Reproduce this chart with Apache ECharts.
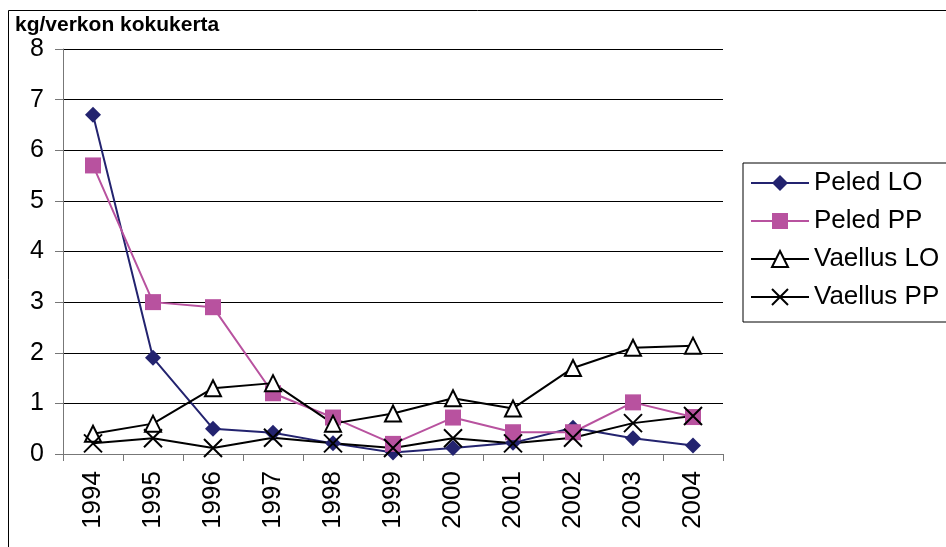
<!DOCTYPE html>
<html>
<head>
<meta charset="utf-8">
<script src="https://cdn.jsdelivr.net/npm/echarts@6/dist/echarts.min.js"></script>
<style>
  html, body { margin: 0; padding: 0; background: #fff; }
  #chart { width: 946px; height: 547px; }
</style>
</head>
<body>
<div id="chart"></div>
<script>
// vuodet ja saaliit (kg/verkon kokukerta)
var years = ['1994', '1995', '1996', '1997', '1998', '1999', '2000', '2001', '2002', '2003', '2004']
var peledLO = [6.7, 1.9, 0.5, 0.42, 0.21, 0.03, 0.12, 0.22, 0.52, 0.31, 0.17]
var peledPP = [5.7, 3.0, 2.9, 1.2, 0.72, 0.2, 0.72, 0.43, 0.43, 1.02, 0.73]
var vaellusLO = [0.4, 0.6, 1.3, 1.4, 0.6, 0.8, 1.1, 0.9, 1.7, 2.1, 2.14]
var vaellusPP = [0.21, 0.31, 0.12, 0.32, 0.21, 0.12, 0.31, 0.21, 0.32, 0.61, 0.75]
var yTicks = [0, 1, 2, 3, 4, 5, 6, 7, 8]

var chart = echarts.init(document.getElementById('chart'))
var font = 'Liberation Sans, Arial, sans-serif'
var crossPath = 'path://M0,0L10,10M10,0L0,10'

function makeSeries(name, data, color, symbol, size, fill) {
  return {
    name: name,
    type: 'line',
    data: data,
    symbol: symbol,
    symbolSize: size,
    showAllSymbol: true,
    lineStyle: { color: color, width: 2 },
    itemStyle: {
      color: fill,
      borderColor: color,
      borderWidth: symbol === 'triangle' || symbol === crossPath ? 2 : 0
    },
    emphasis: { disabled: true },
    z: 3
  }
}

chart.setOption({
  animation: false,
  textStyle: { fontFamily: font },
  graphic: [
    {
      type: 'rect',
      shape: { x: 8.5, y: 10.5, width: 960, height: 560 },
      style: { fill: 'none', stroke: '#000', lineWidth: 1 },
      silent: true
    },
    {
      type: 'text',
      left: 15,
      top: 15,
      style: { text: 'kg/verkon kokukerta', font: 'bold 21px ' + font, fill: '#000' }
    }
  ],
  legend: {
    orient: 'vertical',
    left: 743,
    top: 163,
    width: 220,
    padding: [7, 30, 12, 7],
    borderColor: '#000',
    borderWidth: 1,
    itemGap: 12,
    itemWidth: 58,
    itemHeight: 20,
    textStyle: { fontSize: 26, color: '#000', fontFamily: font },
    data: ['Peled LO', 'Peled PP', 'Vaellus LO', 'Vaellus PP']
  },
  grid: { left: 63, right: 223, top: 49, bottom: 93 },
  xAxis: {
    type: 'category',
    data: years,
    boundaryGap: true,
    axisLine: { lineStyle: { color: '#777', width: 1 } },
    axisTick: { show: true, length: 7, lineStyle: { color: '#777' } },
    axisLabel: { rotate: 90, fontSize: 26, color: '#000', margin: 17, fontFamily: font }
  },
  yAxis: {
    type: 'value',
    min: yTicks[0],
    max: yTicks[yTicks.length - 1],
    interval: 1,
    axisLine: { show: true, lineStyle: { color: '#777', width: 1 } },
    axisTick: { show: true, length: 8, lineStyle: { color: '#777' } },
    axisLabel: { fontSize: 25, color: '#000', margin: 19, fontFamily: font },
    splitLine: { show: true, lineStyle: { color: '#000', width: 1 } }
  },
  series: [
    makeSeries('Peled LO', peledLO, '#23236f', 'diamond', 16, '#23236f'),
    makeSeries('Peled PP', peledPP, '#b8529f', 'rect', 16, '#b8529f'),
    makeSeries('Vaellus LO', vaellusLO, '#000', 'triangle', 16, '#fff'),
    makeSeries('Vaellus PP', vaellusPP, '#000', crossPath, 18, 'none')
  ]
})
</script>
</body>
</html>
